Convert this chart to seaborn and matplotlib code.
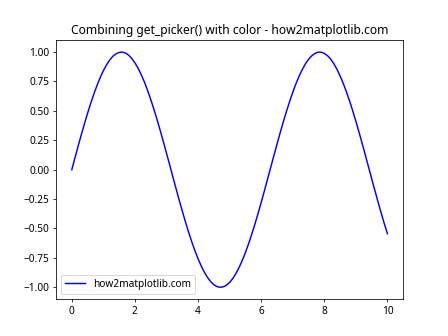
import matplotlib
matplotlib.use("Agg")
import matplotlib.pyplot as plt
import seaborn as sns
import pandas as pd

x_values = [round(i * 0.1, 1) for i in range(101)]
y_values = [0.000, 0.100, 0.199, 0.296, 0.389, 0.479, 0.565, 0.644, 0.717, 0.783,
            0.841, 0.891, 0.932, 0.964, 0.985, 0.997, 1.000, 0.992, 0.974, 0.946,
            0.909, 0.863, 0.808, 0.746, 0.675, 0.598, 0.516, 0.427, 0.335, 0.239,
            0.141, 0.042, -0.058, -0.158, -0.256, -0.351, -0.443, -0.530, -0.612, -0.688,
            -0.757, -0.818, -0.872, -0.916, -0.952, -0.978, -0.994, -1.000, -0.996, -0.982,
            -0.959, -0.926, -0.883, -0.832, -0.773, -0.706, -0.631, -0.551, -0.465, -0.374,
            -0.279, -0.182, -0.083, 0.017, 0.117, 0.215, 0.312, 0.405, 0.494, 0.578,
            0.657, 0.729, 0.794, 0.850, 0.899, 0.938, 0.968, 0.988, 0.999, 0.999,
            0.989, 0.970, 0.941, 0.902, 0.855, 0.798, 0.734, 0.663, 0.585, 0.501,
            0.412, 0.319, 0.223, 0.124, 0.025, -0.075, -0.174, -0.272, -0.366, -0.458,
            -0.544]
series_label = "how2matplotlib.com"
title = "Combining get_picker() with color - how2matplotlib.com"

plt.rcParams['font.family'] = ['Noto Sans', 'DejaVu Sans']
plt.rcParams['font.size'] = 10.4

df = pd.DataFrame({"x": x_values, "y": y_values})

fig, ax = plt.subplots(figsize=(6.4, 4.8), dpi=70)
sns.lineplot(data=df, x="x", y="y", color="blue", label=series_label, ax=ax)
ax.set_title(title)
ax.set_xlabel("")
ax.set_ylabel("")
ax.legend(loc="lower left")
fig.savefig("out.png", dpi=70)
